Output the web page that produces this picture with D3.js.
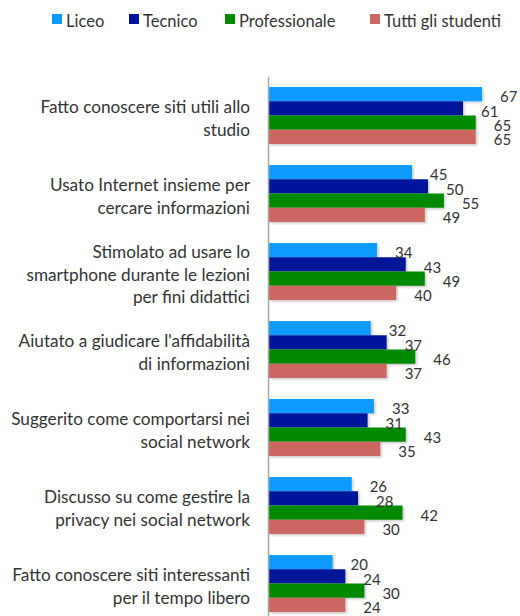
<!DOCTYPE html>
<html>
<head>
<meta charset="utf-8">
<script src="https://cdn.jsdelivr.net/npm/d3@7"></script>
<style>
  body { margin: 0; background: #fff; }
  svg { display: block; font-family: Lato, "Open Sans", sans-serif; }
</style>
</head>
<body>
<svg id="chart" width="520" height="616"></svg>
<script>
// Categories (top to bottom), each split into display lines
const categories = [
  ["Fatto conoscere siti utili allo", "studio"],
  ["Usato Internet insieme per", "cercare informazioni"],
  ["Stimolato ad usare lo", "smartphone durante le lezioni", "per fini didattici"],
  ["Aiutato a giudicare l'affidabilità", "di informazioni"],
  ["Suggerito come comportarsi nei", "social network"],
  ["Discusso su come gestire la", "privacy nei social network"],
  ["Fatto conoscere siti interessanti", "per il tempo libero"]
];

const seriesNames = ["Liceo", "Tecnico", "Professionale", "Tutti gli studenti"];
const seriesColors = ["#0a9bff", "#00129a", "#008a00", "#cc6660"];

const liceo         = [67, 45, 34, 32, 33, 26, 20];
const tecnico       = [61, 50, 43, 37, 31, 28, 24];
const professionale = [65, 55, 49, 46, 43, 42, 30];
const tutti         = [65, 49, 40, 37, 35, 30, 24];

const seriesValues = [liceo, tecnico, professionale, tutti];

const svg = d3.select("#chart");

// Soft drop shadow under bars
const defs = svg.append("defs");
const f = defs.append("filter").attr("id", "shadow")
  .attr("x", "-5%").attr("y", "-20%").attr("width", "115%").attr("height", "160%");
f.append("feDropShadow").attr("dx", 1.5).attr("dy", 1.5).attr("stdDeviation", 1)
  .attr("flood-color", "#000").attr("flood-opacity", 0.22);

const x = d3.scaleLinear().domain([0, 70]).range([269, 269 + 70 * 3.18]);
const y = d3.scaleBand().domain(d3.range(categories.length))
  .range([76.5, 76.5 + 7 * 78]).paddingInner(0.27).paddingOuter(0.135);
const ySub = d3.scaleBand().domain(d3.range(seriesNames.length)).range([0, y.bandwidth()]);

// Bars with value labels
const groups = svg.append("g").selectAll("g")
  .data(categories).join("g")
  .attr("transform", (d, i) => `translate(0,${y(i)})`);

groups.each(function (d, i) {
  const g = d3.select(this);
  const rows = seriesValues.map((vals, s) => ({ s, v: vals[i] }));
  g.selectAll("rect").data(rows).join("rect")
    .attr("x", x(0))
    .attr("y", r => ySub(r.s))
    .attr("width", r => x(r.v) - x(0))
    .attr("height", ySub.bandwidth())
    .attr("fill", r => seriesColors[r.s])
    .attr("filter", "url(#shadow)");
  g.selectAll("text.val").data(rows).join("text")
    .attr("class", "val")
    .attr("x", r => x(r.v) + 18)
    .attr("y", r => ySub(r.s) + ySub.bandwidth() / 2 + 3)
    .attr("dy", "0.35em")
    .attr("font-size", 15)
    .attr("fill", "#333")
    .text(r => r.v);
});

// Vertical axis line
svg.append("line")
  .attr("x1", x(0) - 0.5).attr("x2", x(0) - 0.5)
  .attr("y1", 77).attr("y2", 616)
  .attr("stroke", "#a6a6a6").attr("stroke-width", 1.5);

// Category labels, right-aligned beside the axis
const lineH = 22.5;
svg.append("g").selectAll("text")
  .data(categories).join("text")
  .attr("text-anchor", "end")
  .attr("font-size", 17.2)
  .attr("fill", "#333")
  .each(function (lines, i) {
    const cy = y(i) + y.bandwidth() / 2 + 3;
    const top = cy - (lines.length - 1) * lineH / 2;
    d3.select(this).selectAll("tspan").data(lines).join("tspan")
      .attr("x", 250)
      .attr("y", (l, k) => top + k * lineH)
      .attr("dy", "0.35em")
      .text(l => l);
  });

// Legend
const legendX = [52, 129, 225, 370];
const legend = svg.append("g").selectAll("g")
  .data(seriesNames).join("g")
  .attr("transform", (d, i) => `translate(${legendX[i]},0)`);
legend.append("rect")
  .attr("x", 0).attr("y", 14).attr("width", 10).attr("height", 10)
  .attr("fill", (d, i) => seriesColors[i]);
legend.append("text")
  .attr("x", 14).attr("y", 21).attr("dy", "0.35em")
  .attr("font-size", 16.5).attr("fill", "#333")
  .text(d => d);
</script>
</body>
</html>
